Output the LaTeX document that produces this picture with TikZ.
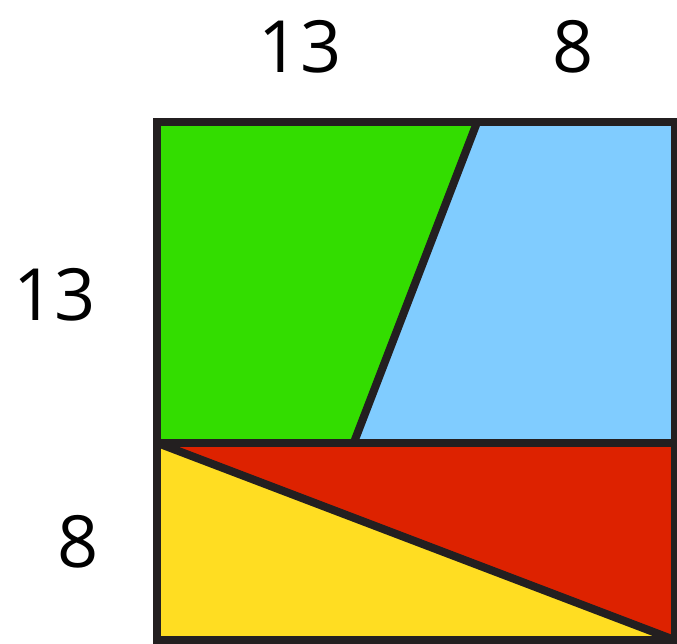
\documentclass[tikz,border=0pt]{standalone}
\usepackage{fontspec}
\setmainfont{Open Sans}
\definecolor{cgreen}{HTML}{33DD00}
\definecolor{cblue}{HTML}{80CCFF}
\definecolor{cred}{HTML}{DD2200}
\definecolor{cyellow}{HTML}{FFDD22}
\definecolor{cline}{HTML}{231F20}
\tikzset{
  edge/.style={draw=cline, line width=4.55pt},
  lab/.style={font=\fontsize{41}{41}\selectfont, text=black, inner sep=0pt}
}
\begin{document}
\begin{tikzpicture}[x=0.49333cm, y=0.49333cm]
\useasboundingbox (-6.345,-0.122) rectangle (21.101,25.946);
% pieces
\fill[cgreen] (0,8) -- (0,21) -- (13,21) -- (8,8) -- cycle;
\fill[cblue] (13,21) -- (21,21) -- (21,8) -- (8,8) -- cycle;
\fill[cred] (0,8) -- (21,8) -- (21,0) -- cycle;
\fill[cyellow] (0,8) -- (21,0) -- (0,0) -- cycle;
% lines
\draw[edge] (0,0) rectangle (21,21);
\draw[edge] (0,8) -- (21,8);
\draw[edge] (13,21) -- (8,8);
\draw[edge] (0,8) -- (21,0);
% labels
\node[lab] (t13) at (5.82,24.05) {13};
\node[lab] (t8) at (16.88,24.05) {8};
\node[lab] (l13) at (-4.12,13.99) {13};
\node[lab] (l8) at (-3.18,3.97) {8};
\end{tikzpicture}
\end{document}
